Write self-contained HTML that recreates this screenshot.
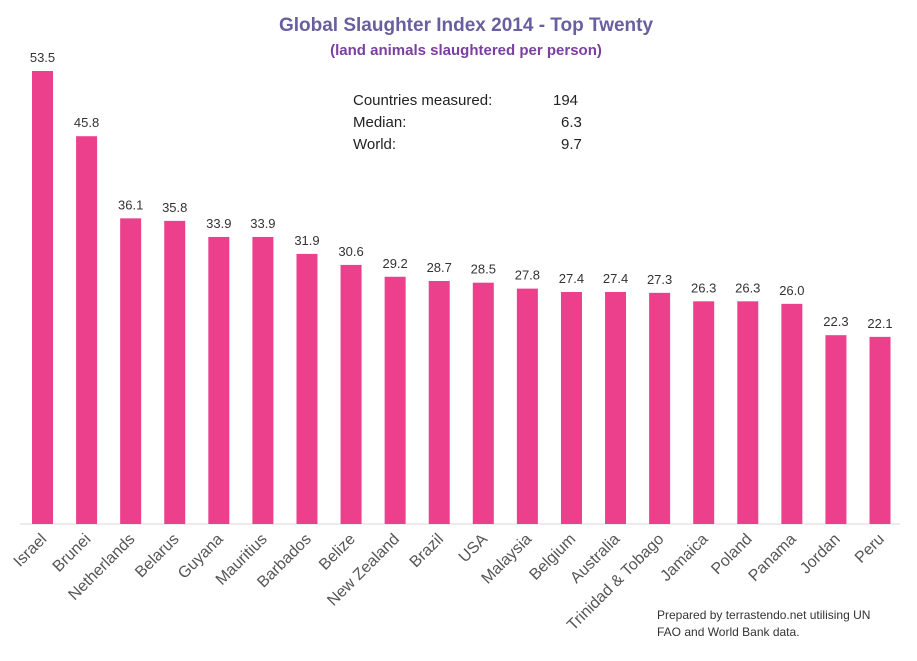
<!DOCTYPE html>
<html><head><meta charset="utf-8"><style>body{margin:0;background:#fff}</style></head><body>
<svg width="917" height="656" xmlns="http://www.w3.org/2000/svg" font-family="Liberation Sans, sans-serif">
<text x="466" y="31" text-anchor="middle" font-size="19" font-weight="bold" fill="#6a5f9e">Global Slaughter Index 2014 - Top Twenty</text>
<text x="466" y="55" text-anchor="middle" font-size="15" font-weight="bold" fill="#7a3fa0">(land animals slaughtered per person)</text>
<g font-size="15" fill="#222">
<text x="353" y="105">Countries measured:</text><text x="553" y="105">194</text>
<text x="353" y="127">Median:</text><text x="561" y="127">6.3</text>
<text x="353" y="149">World:</text><text x="561" y="149">9.7</text>
</g>
<line x1="20" y1="524" x2="900" y2="524" stroke="#d9d9d9" stroke-width="1"/>
<g id="bars"></g>
<text x="657" y="619" font-size="12" fill="#333">Prepared by terrastendo.net utilising UN</text>
<text x="657" y="636" font-size="12" fill="#333">FAO and World Bank data.</text>
</svg>
<script>
var d=[["Israel",53.5],["Brunei",45.8],["Netherlands",36.1],["Belarus",35.8],["Guyana",33.9],["Mauritius",33.9],["Barbados",31.9],["Belize",30.6],["New Zealand",29.2],["Brazil",28.7],["USA",28.5],["Malaysia",27.8],["Belgium",27.4],["Australia",27.4],["Trinidad & Tobago",27.3],["Jamaica",26.3],["Poland",26.3],["Panama",26.0],["Jordan",22.3],["Peru",22.1]];
var g=document.getElementById("bars"),s="";
d.forEach(function(e,i){var c=42.5+44.08*i,h=e[1]*8.467,t=524-h;
s+='<rect x="'+(c-10.5)+'" y="'+t+'" width="21" height="'+h+'" fill="#ec408c"/>';
s+='<text x="'+c+'" y="'+(t-9)+'" text-anchor="middle" font-size="13" fill="#333">'+e[1].toFixed(1)+'</text>';
s+='<text transform="translate('+(c+5)+',540) rotate(-45)" text-anchor="end" font-size="16" fill="#555">'+e[0].replace("&","&amp;")+'</text>';});
g.innerHTML=s;
</script>
</body></html>
